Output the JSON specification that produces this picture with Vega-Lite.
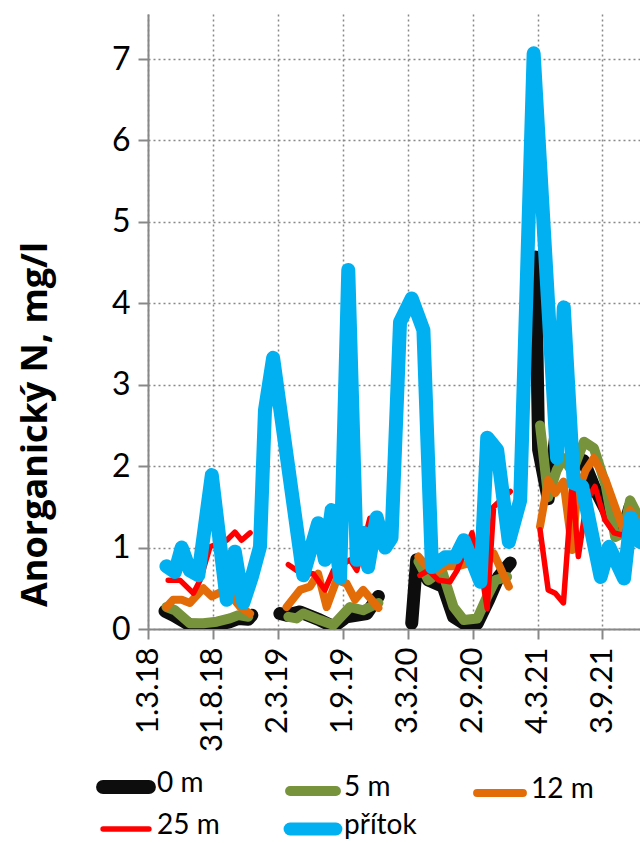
{
 "$schema": "https://vega.github.io/schema/vega-lite/v6.json",
 "width": 492, "height": 615,
 "autosize": {"type": "none"},
 "padding": {"left": 148, "top": 14, "right": 0, "bottom": 214},
 "background": "white",
 "config": {"view": {"stroke": null}, "font": "Lato"},
 "data": {"values": [
  {"d":"2018-04-18","s":"0 m","v":0.22,"g":1},{"d":"2018-05-11","s":"0 m","v":0.17,"g":1},{"d":"2018-06-27","s":"0 m","v":0.05,"g":1},{"d":"2018-08-04","s":"0 m","v":0.04,"g":1},{"d":"2018-09-11","s":"0 m","v":0.05,"g":1},{"d":"2018-10-18","s":"0 m","v":0.09,"g":1},{"d":"2018-11-11","s":"0 m","v":0.13,"g":1},{"d":"2018-12-09","s":"0 m","v":0.12,"g":1},{"d":"2018-12-19","s":"0 m","v":0.17,"g":1},
  {"d":"2019-03-08","s":"0 m","v":0.19,"g":2},{"d":"2019-03-27","s":"0 m","v":0.17,"g":2},{"d":"2019-05-04","s":"0 m","v":0.21,"g":2},{"d":"2019-06-29","s":"0 m","v":0.11,"g":2},{"d":"2019-08-06","s":"0 m","v":0.03,"g":2},{"d":"2019-09-12","s":"0 m","v":0.15,"g":2},{"d":"2019-11-08","s":"0 m","v":0.19,"g":2},{"d":"2019-12-11","s":"0 m","v":0.40,"g":2},
  {"d":"2020-03-14","s":"0 m","v":0.07,"g":3},{"d":"2020-03-28","s":"0 m","v":0.85,"g":3},{"d":"2020-04-30","s":"0 m","v":0.60,"g":3},{"d":"2020-06-11","s":"0 m","v":0.52,"g":3},{"d":"2020-07-10","s":"0 m","v":0.15,"g":3},{"d":"2020-08-08","s":"0 m","v":0.07,"g":3},{"d":"2020-09-15","s":"0 m","v":0.07,"g":3},{"d":"2020-10-17","s":"0 m","v":0.36,"g":3},{"d":"2020-11-14","s":"0 m","v":0.64,"g":3},{"d":"2020-12-17","s":"0 m","v":0.81,"g":3},
  {"d":"2021-02-26","s":"0 m","v":4.57,"g":4},{"d":"2021-03-07","s":"0 m","v":2.20,"g":4},{"d":"2021-04-03","s":"0 m","v":1.60,"g":4},{"d":"2021-05-17","s":"0 m","v":3.20,"g":4},{"d":"2021-06-14","s":"0 m","v":2.00,"g":4},{"d":"2021-07-11","s":"0 m","v":2.07,"g":4},{"d":"2021-08-10","s":"0 m","v":1.75,"g":4},{"d":"2021-10-06","s":"0 m","v":1.26,"g":4},{"d":"2021-11-01","s":"0 m","v":1.22,"g":4},{"d":"2021-11-20","s":"0 m","v":1.50,"g":4},{"d":"2021-12-18","s":"0 m","v":1.30,"g":4},

  {"d":"2018-04-22","s":"5 m","v":0.27,"g":1},{"d":"2018-05-16","s":"5 m","v":0.23,"g":1},{"d":"2018-06-27","s":"5 m","v":0.07,"g":1},{"d":"2018-08-04","s":"5 m","v":0.07,"g":1},{"d":"2018-09-11","s":"5 m","v":0.09,"g":1},{"d":"2018-10-18","s":"5 m","v":0.13,"g":1},{"d":"2018-11-11","s":"5 m","v":0.17,"g":1},{"d":"2018-12-09","s":"5 m","v":0.15,"g":1},
  {"d":"2019-04-01","s":"5 m","v":0.15,"g":2},{"d":"2019-04-24","s":"5 m","v":0.13,"g":2},{"d":"2019-05-13","s":"5 m","v":0.19,"g":2},{"d":"2019-06-29","s":"5 m","v":0.11,"g":2},{"d":"2019-08-06","s":"5 m","v":0.05,"g":2},{"d":"2019-09-22","s":"5 m","v":0.27,"g":2},{"d":"2019-10-29","s":"5 m","v":0.23,"g":2},{"d":"2019-12-11","s":"5 m","v":0.32,"g":2},
  {"d":"2020-04-02","s":"5 m","v":0.83,"g":3},{"d":"2020-04-30","s":"5 m","v":0.60,"g":3},{"d":"2020-06-07","s":"5 m","v":0.72,"g":3},{"d":"2020-07-10","s":"5 m","v":0.27,"g":3},{"d":"2020-08-08","s":"5 m","v":0.11,"g":3},{"d":"2020-09-15","s":"5 m","v":0.13,"g":3},{"d":"2020-10-13","s":"5 m","v":0.40,"g":3},{"d":"2020-11-05","s":"5 m","v":0.60,"g":3},{"d":"2020-12-08","s":"5 m","v":0.64,"g":3},
  {"d":"2021-03-11","s":"5 m","v":2.50,"g":4},{"d":"2021-04-03","s":"5 m","v":1.62,"g":4},{"d":"2021-04-27","s":"5 m","v":1.95,"g":4},{"d":"2021-05-16","s":"5 m","v":2.10,"g":4},{"d":"2021-06-10","s":"5 m","v":1.93,"g":4},{"d":"2021-07-13","s":"5 m","v":2.30,"g":4},{"d":"2021-08-10","s":"5 m","v":2.22,"g":4},{"d":"2021-09-12","s":"5 m","v":1.77,"g":4},{"d":"2021-10-09","s":"5 m","v":1.13,"g":4},{"d":"2021-11-01","s":"5 m","v":1.18,"g":4},{"d":"2021-11-20","s":"5 m","v":1.58,"g":4},{"d":"2021-12-18","s":"5 m","v":1.34,"g":4},

  {"d":"2018-04-22","s":"12 m","v":0.27,"g":1},{"d":"2018-05-11","s":"12 m","v":0.36,"g":1},{"d":"2018-06-04","s":"12 m","v":0.36,"g":1},{"d":"2018-06-27","s":"12 m","v":0.32,"g":1},{"d":"2018-08-04","s":"12 m","v":0.50,"g":1},{"d":"2018-08-28","s":"12 m","v":0.40,"g":1},{"d":"2018-09-25","s":"12 m","v":0.46,"g":1},{"d":"2018-10-23","s":"12 m","v":0.40,"g":1},{"d":"2018-11-16","s":"12 m","v":0.27,"g":1},{"d":"2018-12-14","s":"12 m","v":0.19,"g":1},
  {"d":"2019-03-27","s":"12 m","v":0.27,"g":2},{"d":"2019-05-04","s":"12 m","v":0.48,"g":2},{"d":"2019-06-01","s":"12 m","v":0.52,"g":2},{"d":"2019-06-24","s":"12 m","v":0.68,"g":2},{"d":"2019-07-18","s":"12 m","v":0.27,"g":2},{"d":"2019-08-15","s":"12 m","v":0.60,"g":2},{"d":"2019-09-12","s":"12 m","v":0.56,"g":2},{"d":"2019-10-06","s":"12 m","v":0.36,"g":2},{"d":"2019-10-29","s":"12 m","v":0.48,"g":2},{"d":"2019-12-11","s":"12 m","v":0.26,"g":2},
  {"d":"2020-04-02","s":"12 m","v":0.89,"g":3},{"d":"2020-04-25","s":"12 m","v":0.77,"g":3},{"d":"2020-05-19","s":"12 m","v":0.69,"g":3},{"d":"2020-06-16","s":"12 m","v":0.77,"g":3},{"d":"2020-07-20","s":"12 m","v":0.77,"g":3},{"d":"2020-08-17","s":"12 m","v":0.80,"g":3},{"d":"2020-09-24","s":"12 m","v":0.89,"g":3},{"d":"2020-10-31","s":"12 m","v":0.93,"g":3},{"d":"2020-12-13","s":"12 m","v":0.52,"g":3},
  {"d":"2021-03-11","s":"12 m","v":1.26,"g":4},{"d":"2021-04-03","s":"12 m","v":1.83,"g":4},{"d":"2021-04-23","s":"12 m","v":1.67,"g":4},{"d":"2021-05-16","s":"12 m","v":1.81,"g":4},{"d":"2021-06-10","s":"12 m","v":0.97,"g":4},{"d":"2021-06-24","s":"12 m","v":1.67,"g":4},{"d":"2021-07-18","s":"12 m","v":1.95,"g":4},{"d":"2021-08-10","s":"12 m","v":2.10,"g":4},{"d":"2021-09-12","s":"12 m","v":1.83,"g":4},{"d":"2021-10-09","s":"12 m","v":1.50,"g":4},{"d":"2021-11-01","s":"12 m","v":1.22,"g":4},{"d":"2021-11-20","s":"12 m","v":1.46,"g":4},{"d":"2021-12-18","s":"12 m","v":1.26,"g":4},

  {"d":"2018-04-27","s":"25 m","v":0.60,"g":1},{"d":"2018-05-30","s":"25 m","v":0.60,"g":1},{"d":"2018-07-07","s":"25 m","v":0.44,"g":1},{"d":"2018-07-26","s":"25 m","v":0.60,"g":1},{"d":"2018-08-23","s":"25 m","v":1.01,"g":1},{"d":"2018-10-09","s":"25 m","v":1.09,"g":1},{"d":"2018-11-01","s":"25 m","v":1.19,"g":1},{"d":"2018-11-20","s":"25 m","v":1.09,"g":1},{"d":"2018-12-14","s":"25 m","v":1.18,"g":1},
  {"d":"2019-04-01","s":"25 m","v":0.79,"g":2},{"d":"2019-05-08","s":"25 m","v":0.68,"g":2},{"d":"2019-06-10","s":"25 m","v":0.68,"g":2},{"d":"2019-07-13","s":"25 m","v":0.48,"g":2},{"d":"2019-08-06","s":"25 m","v":0.72,"g":2},{"d":"2019-09-22","s":"25 m","v":0.85,"g":2},{"d":"2019-10-11","s":"25 m","v":0.72,"g":2},{"d":"2019-11-17","s":"25 m","v":1.36,"g":2},
  {"d":"2020-04-06","s":"25 m","v":0.66,"g":3},{"d":"2020-04-30","s":"25 m","v":0.72,"g":3},{"d":"2020-05-28","s":"25 m","v":0.60,"g":3},{"d":"2020-06-30","s":"25 m","v":0.58,"g":3},{"d":"2020-07-20","s":"25 m","v":0.72,"g":3},{"d":"2020-08-31","s":"25 m","v":1.18,"g":3},{"d":"2020-10-03","s":"25 m","v":0.52,"g":3},{"d":"2020-10-13","s":"25 m","v":0.25,"g":3},{"d":"2020-10-31","s":"25 m","v":1.50,"g":3},{"d":"2020-12-17","s":"25 m","v":1.69,"g":3},
  {"d":"2021-03-11","s":"25 m","v":1.22,"g":4},{"d":"2021-04-03","s":"25 m","v":0.48,"g":4},{"d":"2021-04-23","s":"25 m","v":0.44,"g":4},{"d":"2021-05-16","s":"25 m","v":0.32,"g":4},{"d":"2021-06-10","s":"25 m","v":1.80,"g":4},{"d":"2021-06-27","s":"25 m","v":0.89,"g":4},{"d":"2021-07-21","s":"25 m","v":1.58,"g":4},{"d":"2021-08-13","s":"25 m","v":1.75,"g":4},{"d":"2021-09-10","s":"25 m","v":1.34,"g":4},{"d":"2021-10-06","s":"25 m","v":1.18,"g":4},{"d":"2021-11-01","s":"25 m","v":1.15,"g":4},{"d":"2021-11-20","s":"25 m","v":1.38,"g":4},{"d":"2021-12-18","s":"25 m","v":1.18,"g":4},

  {"d":"2018-04-22","s":"přítok","v":0.77,"g":1},{"d":"2018-05-16","s":"přítok","v":0.70,"g":1},{"d":"2018-06-04","s":"přítok","v":1.00,"g":1},{"d":"2018-06-27","s":"přítok","v":0.72,"g":1},{"d":"2018-07-21","s":"přítok","v":0.66,"g":1},{"d":"2018-08-28","s":"přítok","v":1.89,"g":1},{"d":"2018-10-09","s":"přítok","v":0.36,"g":1},{"d":"2018-11-01","s":"přítok","v":0.95,"g":1},{"d":"2018-11-25","s":"přítok","v":0.32,"g":1},{"d":"2018-12-19","s":"přítok","v":0.64,"g":1},{"d":"2019-01-11","s":"přítok","v":1.01,"g":1},{"d":"2019-01-25","s":"přítok","v":2.69,"g":1},{"d":"2019-02-17","s":"přítok","v":3.33,"g":1},{"d":"2019-05-13","s":"přítok","v":0.66,"g":1},{"d":"2019-06-24","s":"přítok","v":1.30,"g":1},{"d":"2019-07-13","s":"přítok","v":0.85,"g":1},{"d":"2019-08-01","s":"přítok","v":1.46,"g":1},{"d":"2019-08-25","s":"přítok","v":0.63,"g":1},{"d":"2019-09-17","s":"přítok","v":4.41,"g":1},{"d":"2019-10-11","s":"přítok","v":0.85,"g":1},{"d":"2019-10-29","s":"přítok","v":1.18,"g":1},{"d":"2019-11-12","s":"přítok","v":0.76,"g":1},{"d":"2019-12-06","s":"přítok","v":1.37,"g":1},{"d":"2019-12-30","s":"přítok","v":1.00,"g":1},{"d":"2020-01-17","s":"přítok","v":1.12,"g":1},{"d":"2020-02-10","s":"přítok","v":3.77,"g":1},{"d":"2020-03-14","s":"přítok","v":4.06,"g":1},{"d":"2020-04-16","s":"přítok","v":3.67,"g":1},{"d":"2020-05-10","s":"přítok","v":0.76,"g":1},{"d":"2020-06-16","s":"přítok","v":0.88,"g":1},{"d":"2020-07-15","s":"přítok","v":0.88,"g":1},{"d":"2020-08-08","s":"přítok","v":1.09,"g":1},{"d":"2020-09-24","s":"přítok","v":0.58,"g":1},{"d":"2020-10-13","s":"přítok","v":2.35,"g":1},{"d":"2020-11-10","s":"přítok","v":2.20,"g":1},{"d":"2020-12-13","s":"přítok","v":1.07,"g":1},{"d":"2021-01-14","s":"přítok","v":1.58,"g":1},{"d":"2021-02-21","s":"přítok","v":7.07,"g":1},{"d":"2021-04-28","s":"přítok","v":2.10,"g":1},{"d":"2021-05-17","s":"přítok","v":3.95,"g":1},{"d":"2021-06-14","s":"přítok","v":1.79,"g":1},{"d":"2021-07-08","s":"přítok","v":1.75,"g":1},{"d":"2021-08-29","s":"přítok","v":0.64,"g":1},{"d":"2021-09-22","s":"přítok","v":1.01,"g":1},{"d":"2021-11-03","s":"přítok","v":0.62,"g":1},{"d":"2021-11-22","s":"přítok","v":1.37,"g":1},{"d":"2021-12-18","s":"přítok","v":1.07,"g":1}
 ]},
 "encoding": {
  "x": {"field": "d", "type": "temporal",
   "scale": {"type": "utc", "domain": [{"year": 2018, "month": 3, "date": 1, "utc": true}, {"year": 2021, "month": 12, "date": 18, "utc": true}]},
   "axis": {"values": [
     {"year": 2018, "month": 3, "date": 1, "utc": true}, {"year": 2018, "month": 8, "date": 31, "utc": true},
     {"year": 2019, "month": 3, "date": 2, "utc": true}, {"year": 2019, "month": 9, "date": 1, "utc": true},
     {"year": 2020, "month": 3, "date": 3, "utc": true}, {"year": 2020, "month": 9, "date": 2, "utc": true},
     {"year": 2021, "month": 3, "date": 4, "utc": true}, {"year": 2021, "month": 9, "date": 3, "utc": true}],
    "labelExpr": "utcFormat(datum.value, '%-d.%-m.%y')", "title": null,
    "labelAngle": 270, "labelAlign": "right", "labelBaseline": "middle", "labelFont": "Lato", "labelFontSize": 31, "labelColor": "#000", "labelPadding": 8, "labelOverlap": false, "labelFlush": false,
    "tickSize": 10, "tickColor": "#888", "tickWidth": 2, "domainColor": "#888", "domainWidth": 2,
    "grid": true, "gridColor": "#888", "gridDash": [2, 3], "gridWidth": 1.5}},
  "y": {"field": "v", "type": "quantitative",
   "scale": {"domain": [0, 7.553], "nice": false},
   "axis": {"values": [0, 1, 2, 3, 4, 5, 6, 7], "labelFont": "Lato", "labelFontSize": 32, "labelColor": "#000", "labelPadding": 8,
    "tickSize": 10, "tickColor": "#888", "tickWidth": 2, "domainColor": "#888", "domainWidth": 2,
    "grid": true, "gridColor": "#888", "gridDash": [2, 3], "gridWidth": 1.5,
    "title": "Anorganický N, mg/l", "titleFont": "Open Sans", "titleFontSize": 36, "titleFontWeight": "bold", "titleColor": "#000",
    "titleAngle": 270, "titleX": -113, "titleY": 410, "titleAlign": "center", "titleBaseline": "middle"}},
  "color": {"field": "s", "type": "nominal",
   "scale": {"domain": ["0 m", "5 m", "12 m", "25 m", "přítok"], "range": ["#0d0d0d", "#77933c", "#e36c09", "#ff0000", "#00b0f0"]},
   "legend": {"title": null, "orient": "none", "legendX": -36, "legendY": 759, "direction": "horizontal", "columns": 3,
    "symbolType": "stroke", "symbolSize": 2100, "labelFont": "Lato", "labelFontSize": 28, "labelColor": "#000", "labelOffset": 17,
    "columnPadding": 34, "rowPadding": -28, "gridAlign": "all",
    "encode": {"symbols": {"update": {"strokeCap": {"value": "round"},
      "strokeWidth": {"signal": "datum.value === '0 m' ? 14 : datum.value === '5 m' ? 10 : datum.value === '12 m' ? 8 : datum.value === '25 m' ? 5.5 : 13"}}},
     "labels": {"update": {"dy": {"value": -3}}}}}},
  "detail": {"field": "g", "type": "nominal"}
 },
 "layer": [
  {"transform": [{"filter": "datum.s === '0 m'"}], "mark": {"type": "line", "strokeWidth": 13, "strokeCap": "round", "strokeJoin": "round", "clip": true}},
  {"transform": [{"filter": "datum.s === '5 m'"}], "mark": {"type": "line", "strokeWidth": 10, "strokeCap": "round", "strokeJoin": "round", "clip": true}},
  {"transform": [{"filter": "datum.s === '12 m'"}], "mark": {"type": "line", "strokeWidth": 8, "strokeCap": "round", "strokeJoin": "round", "clip": true}},
  {"transform": [{"filter": "datum.s === '25 m'"}], "mark": {"type": "line", "strokeWidth": 5.5, "strokeCap": "round", "strokeJoin": "round", "clip": true}},
  {"transform": [{"filter": "datum.s === 'přítok'"}], "mark": {"type": "line", "strokeWidth": 14, "strokeCap": "round", "strokeJoin": "round", "clip": true}}
 ]
}
